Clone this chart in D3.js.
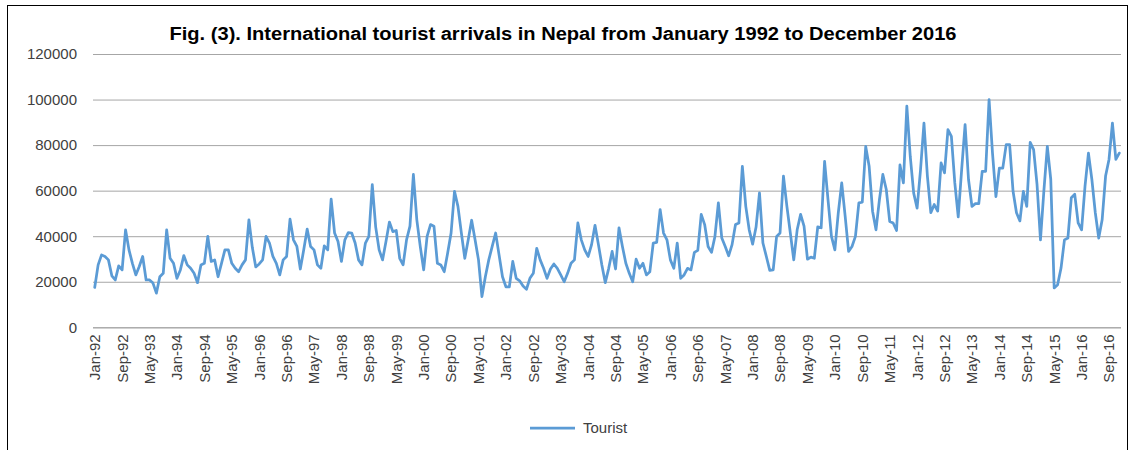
<!DOCTYPE html>
<html>
<head>
<meta charset="utf-8">
<script src="https://cdn.jsdelivr.net/npm/d3@7"></script>
<style>
  html, body { margin: 0; padding: 0; background: #fff; }
  svg { display: block; }
  text { font-family: "Liberation Sans", Arial, sans-serif; }
</style>
</head>
<body>
<svg id="chart" width="1139" height="450"></svg>
<script>
// Monthly international tourist arrivals, January 1992 – December 2016
const years = d3.range(1992, 2017);
const monthNames = ["Jan","Feb","Mar","Apr","May","Jun","Jul","Aug","Sep","Oct","Nov","Dec"];

const tourists = [
  17500, 27400, 31800, 31100, 29600, 22600, 20800, 27000, 25200, 42800, 34000, 28100, // 1992
  23000, 26700, 31100, 20800, 20800, 19400, 15000, 22200, 23700, 42800, 30300, 28100, // 1993
  21500, 25200, 31500, 27400, 25900, 23700, 19600, 27400, 28100, 39900, 28900, 29600, // 1994
  22200, 28100, 34000, 34000, 28100, 25900, 24400, 27400, 29600, 47200, 35000, 26500, // 1995
  27800, 29600, 39900, 37000, 31100, 28100, 23000, 29600, 31100, 47500, 38400, 35500, // 1996
  25600, 34000, 43100, 35500, 34000, 27400, 25900, 35800, 34000, 56300, 41400, 37700, // 1997
  28900, 38400, 41600, 41400, 37000, 29600, 27400, 37000, 39900, 62600, 44000, 34000, // 1998
  29600, 37700, 46200, 42000, 42500, 30300, 27400, 38400, 44400, 67100, 47200, 35500, // 1999
  25200, 39900, 45100, 44400, 28100, 27400, 24400, 32600, 41400, 59700, 53100, 41400, // 2000
  30300, 38400, 47000, 38400, 29600, 13500, 22200, 29600, 35500, 41400, 31800, 22200, // 2001
  17800, 17800, 28900, 21500, 20400, 18100, 16700, 21500, 23700, 34700, 29600, 25900, // 2002
  21500, 25600, 27800, 25900, 23000, 20000, 23700, 28100, 29600, 45800, 38400, 34000, // 2003
  31100, 36300, 44800, 36300, 27400, 19600, 25900, 33300, 25600, 43700, 35500, 28100, // 2004
  23700, 20000, 29900, 25900, 28100, 23000, 24400, 37000, 37300, 51700, 41400, 38400, // 2005
  29600, 25900, 37000, 21500, 23000, 25900, 25200, 32900, 33800, 49600, 45100, 35500, // 2006
  32900, 39900, 54600, 39200, 35500, 31400, 36300, 45100, 45800, 70700, 53100, 42800, // 2007
  36500, 44000, 59000, 37000, 31100, 25000, 25200, 39900, 41400, 66400, 53100, 41400, // 2008
  29600, 42800, 49600, 44400, 29900, 30800, 30300, 44100, 43700, 72900, 56000, 39900, // 2009
  34000, 50300, 63400, 48800, 33300, 35500, 39900, 54600, 54900, 79400, 70700, 51000, // 2010
  42800, 56000, 67100, 60500, 46500, 45800, 42500, 71300, 63400, 97100, 75000, 58900, // 2011
  52300, 69200, 89700, 66400, 50300, 53900, 51000, 72200, 67800, 86800, 83800, 63400, // 2012
  48500, 69200, 89000, 64900, 53100, 54300, 54300, 68500, 68500, 100000, 76500, 57400, // 2013
  69900, 69900, 80200, 80200, 59700, 50300, 46700, 59700, 53100, 81200, 78000, 62600, // 2014
  38400, 60000, 79400, 65000, 17300, 18700, 26000, 38400, 39200, 56900, 58400, 45800, // 2015
  42800, 62000, 76500, 64900, 50300, 39200, 47200, 66400, 73700, 89700, 73700, 76500  // 2016
];

const yTicks = [0, 20000, 40000, 60000, 80000, 100000, 120000];
const labelEvery = 8; // one category label every eight months

const titleText = "Fig. (3). International tourist arrivals in Nepal from January 1992 to December 2016";
const seriesName = "Tourist";

// Category labels such as "Jan-92"
const categories = [];
years.forEach(y => monthNames.forEach(m => categories.push(m + "-" + String(y).slice(2))));
const data = categories.map((c, i) => ({ cat: c, value: tourists[i] }));

const svg = d3.select("#chart");
const lineColor = "#5B9BD5";

// Outer chart frame
svg.append("rect")
  .attr("x", 7.5).attr("y", 5.5)
  .attr("width", 1120).attr("height", 470)
  .attr("fill", "none").attr("stroke", "#000").attr("stroke-width", 1);

const plot = { left: 93, right: 1121, top: 54, bottom: 327.3 };

const x = d3.scaleBand().domain(categories).range([plot.left, plot.right]).padding(0);
const xc = c => x(c) + x.bandwidth() / 2;
const y = d3.scaleLinear().domain([0, 120000]).range([plot.bottom, plot.top]);

// Horizontal gridlines + value labels
const yAxis = d3.axisLeft(y).tickValues(yTicks).tickSize(-(plot.right - plot.left)).tickFormat(d3.format("d"));
const gy = svg.append("g").attr("transform", `translate(${plot.left},0)`).call(yAxis);
gy.select(".domain").remove();
gy.selectAll(".tick line").attr("stroke", "#a6a6a6").attr("stroke-width", 1);
gy.selectAll(".tick text")
  .attr("x", -16)
  .attr("fill", "#404040")
  .style("font-size", "15px")
  .style("font-family", "'Liberation Sans', Arial, sans-serif");

// Category axis
const tickCats = categories.filter((c, i) => i % labelEvery === 0);
const xAxis = d3.axisBottom(x).tickValues(tickCats).tickSize(0);
const gx = svg.append("g").attr("transform", `translate(0,${plot.bottom})`).call(xAxis);
gx.select(".domain").attr("stroke", "#a6a6a6").attr("d", `M${plot.left},0.5H${plot.right}`);
gx.selectAll(".tick line").remove();
gx.selectAll(".tick text")
  .attr("transform", "rotate(-90)")
  .attr("x", -7)
  .attr("y", 0)
  .attr("dy", "0.36em")
  .attr("text-anchor", "end")
  .attr("fill", "#404040")
  .style("font-size", "15px")
  .style("font-family", "'Liberation Sans', Arial, sans-serif");

// Series line
const line = d3.line().x(d => xc(d.cat)).y(d => y(d.value));
svg.append("path")
  .datum(data)
  .attr("d", line)
  .attr("fill", "none")
  .attr("stroke", lineColor)
  .attr("stroke-width", 2.75)
  .attr("stroke-linejoin", "round")
  .attr("stroke-linecap", "round");

// Title
svg.append("text")
  .attr("x", 563).attr("y", 40)
  .attr("text-anchor", "middle")
  .attr("textLength", 787)
  .attr("lengthAdjust", "spacingAndGlyphs")
  .attr("fill", "#000")
  .style("font-size", "18px")
  .style("font-weight", "bold")
  .text(titleText);

// Legend
const lg = svg.append("g").attr("transform", "translate(530,428)");
lg.append("line").attr("x1", 0).attr("x2", 45).attr("y1", 0).attr("y2", 0)
  .attr("stroke", lineColor).attr("stroke-width", 2.75);
lg.append("text").attr("x", 53).attr("y", 5)
  .attr("fill", "#404040")
  .style("font-size", "15px")
  .text(seriesName);
</script>
</body>
</html>
